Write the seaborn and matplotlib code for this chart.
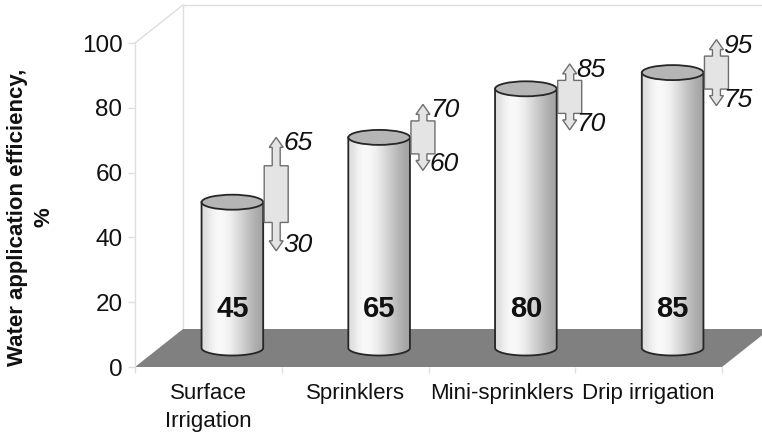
import numpy as np
import pandas as pd
import matplotlib
matplotlib.use("Agg")
import matplotlib.pyplot as plt
import matplotlib.transforms as mtransforms
from matplotlib.patches import Ellipse, Polygon, PathPatch
from matplotlib.path import Path
from matplotlib.ticker import FixedLocator
import seaborn as sns

# Irrigation methods and their typical water application efficiency (%)
methods = ["Surface\nIrrigation", "Sprinklers", "Mini-sprinklers", "Drip irrigation"]
efficiency = [45, 65, 80, 85]
range_low = [30, 60, 70, 75]
range_high = [65, 70, 85, 95]
y_ticks = [0, 20, 40, 60, 80, 100]

sns.set_theme(style="white")
plt.rcParams["font.family"] = ["Liberation Sans", "DejaVu Sans"]

W, H, DPI = 762, 434, 100
fig = plt.figure(figsize=(W / DPI, H / DPI), dpi=DPI)
ax = fig.add_axes([135 / W, 1 - 367 / H, 587 / W, 324 / H])

df = pd.DataFrame({"method": methods, "efficiency": efficiency})
sns.barplot(data=df, x="method", y="efficiency", width=0.42, color="white",
            saturation=1, errorbar=None, ax=ax)
bars = list(ax.patches)

ax.set_xlim(-0.5, len(methods) - 0.5)
ax.set_ylim(0, 100)

# pixel <-> data scale factors
ppu_x = ax.bbox.width / (len(methods))
ppu_y = ax.bbox.height / 100.0

# 3-D depth of the floor (pixels) and the plane where the cylinders stand
depth_px = (48, 38)
ddx, ddy = depth_px[0] / ppu_x, depth_px[1] / ppu_y
mid = ax.transData + mtransforms.ScaledTranslation(
    depth_px[0] / 2 / DPI, depth_px[1] / 2 / DPI, fig.dpi_scale_trans)

x0, x1 = -0.5, len(methods) - 0.5
wall_col = "#dedede"
# floor
ax.add_patch(Polygon([(x0, 0), (x1, 0), (x1 + ddx, ddy), (x0 + ddx, ddy)],
                     closed=True, facecolor="#808080", edgecolor="none",
                     zorder=1, clip_on=False))
# back-wall and side-wall edges
ax.plot([x0, x0 + ddx], [100, 100 + ddy], color=wall_col, lw=1, clip_on=False, zorder=0.5)
ax.plot([x0 + ddx, x0 + ddx], [ddy, 100 + ddy], color=wall_col, lw=1, clip_on=False, zorder=0.5)
ax.plot([x0 + ddx, x1 + ddx + 1], [100 + ddy, 100 + ddy], color=wall_col, lw=1,
        clip_on=False, zorder=0.5)

# cylinder shading across the width
shade = np.array([[0.86, 0.95, 0.98, 0.96, 0.91, 0.84, 0.77, 0.70, 0.64]])

ell_h = 15 / ppu_y
edge_col = "#262626"
for bar, val in zip(bars, efficiency):
    bx, bw, bh = bar.get_x(), bar.get_width(), bar.get_height()
    bar.set_visible(False)
    xc = bx + bw / 2
    t = np.linspace(0, np.pi, 60)
    arc = np.column_stack([xc - (bw / 2) * np.cos(t), -(ell_h / 2) * np.sin(t)])
    verts = np.vstack([[bx, bh], [bx, 0], arc, [bx + bw, bh], [bx, bh]])
    codes = [Path.MOVETO] + [Path.LINETO] * (len(verts) - 2) + [Path.CLOSEPOLY]
    body = PathPatch(Path(verts, codes), transform=mid, facecolor="none",
                     edgecolor=edge_col, lw=1.3, zorder=3)
    ax.add_patch(body)
    im = ax.imshow(shade, extent=[bx, bx + bw, -ell_h, bh], transform=mid,
                   cmap="gray", vmin=0, vmax=1, aspect="auto",
                   interpolation="bicubic", zorder=2.9)
    im.set_clip_path(body)
    ax.add_patch(Ellipse((xc, bh), bw, ell_h, transform=mid, facecolor="#b5b5b5",
                         edgecolor=edge_col, lw=1.3, zorder=4))
    ax.annotate(f"{val:g}", xy=(xc, 0), xycoords=mid, xytext=(0, 31 * 0.72),
                textcoords="offset points", ha="center", va="baseline",
                fontsize=21, fontweight="bold", color="#111111", zorder=5)

# up-down range callouts beside each cylinder (drawn at least min_len pixels tall)
box_hw, shaft_hw, head_hw = 12 / ppu_x, 4 / ppu_x, 7 / ppu_x
min_len = 66 / ppu_y
for bar, lo, hi in zip(bars, range_low, range_high):
    cx = bar.get_x() + bar.get_width() + 13 / ppu_x
    centre = (hi + lo) / 2
    half = max(hi - lo, min_len) / 2
    top, bot = centre + half, centre - half
    span = top - bot
    btop, bbot = top - span * 0.25, bot + span * 0.25
    hh = min(10 / ppu_y, span * 0.2)
    right = [(cx, top), (cx + head_hw, top - hh), (cx + shaft_hw, top - hh),
             (cx + shaft_hw, btop), (cx + box_hw, btop), (cx + box_hw, bbot),
             (cx + shaft_hw, bbot), (cx + shaft_hw, bot + hh), (cx + head_hw, bot + hh),
             (cx, bot)]
    left = [(2 * cx - px, py) for px, py in right[-2:0:-1]]
    ax.add_patch(Polygon(right + left, closed=True, transform=mid, facecolor="#e4e4e4",
                         edgecolor="#6e6e6e", lw=1, zorder=6, clip_on=False))
    tx = cx + 7 / ppu_x
    ax.annotate(f"{hi:g}", xy=(tx, top), xycoords=mid, xytext=(0, -6 * 0.72),
                textcoords="offset points", ha="left", va="center", fontsize=19,
                fontstyle="italic", color="#111111", annotation_clip=False, zorder=7)
    ax.annotate(f"{lo:g}", xy=(tx, bot), xycoords=mid, xytext=(0, 6 * 0.72),
                textcoords="offset points", ha="left", va="center", fontsize=19,
                fontstyle="italic", color="#111111", annotation_clip=False, zorder=7)

# axes styling
for side in ("top", "right", "bottom"):
    ax.spines[side].set_visible(False)
ax.spines["left"].set_color(wall_col)
ax.spines["left"].set_linewidth(1)
ax.set_yticks(y_ticks)
ax.tick_params(axis="y", left=True, length=5, width=1, color=wall_col, pad=4,
               labelsize=17.5, labelcolor="#111111")
ax.tick_params(axis="x", bottom=True, which="major", length=0, pad=11.5,
               labelsize=16, labelcolor="#111111")
for lab in ax.get_xticklabels():
    lab.set_linespacing(1.45)
ax.xaxis.set_minor_locator(FixedLocator(np.arange(len(methods) + 1) - 0.5))
ax.tick_params(axis="x", which="minor", bottom=True, length=4, width=1, color=wall_col)
ax.set_xlabel("")
ax.set_ylabel("Water application efficiency,\n%", fontsize=16, fontweight="bold",
              color="#111111", va="center", linespacing=1.35)
ax.yaxis.set_label_coords((31 - 135) / 587, (367 - 217) / 324)
ax.set_xlim(x0, x1)
ax.set_ylim(0, 100)
ax.set_facecolor("white")
ax.grid(False)

fig.savefig("out.png", dpi=DPI, facecolor="white")
